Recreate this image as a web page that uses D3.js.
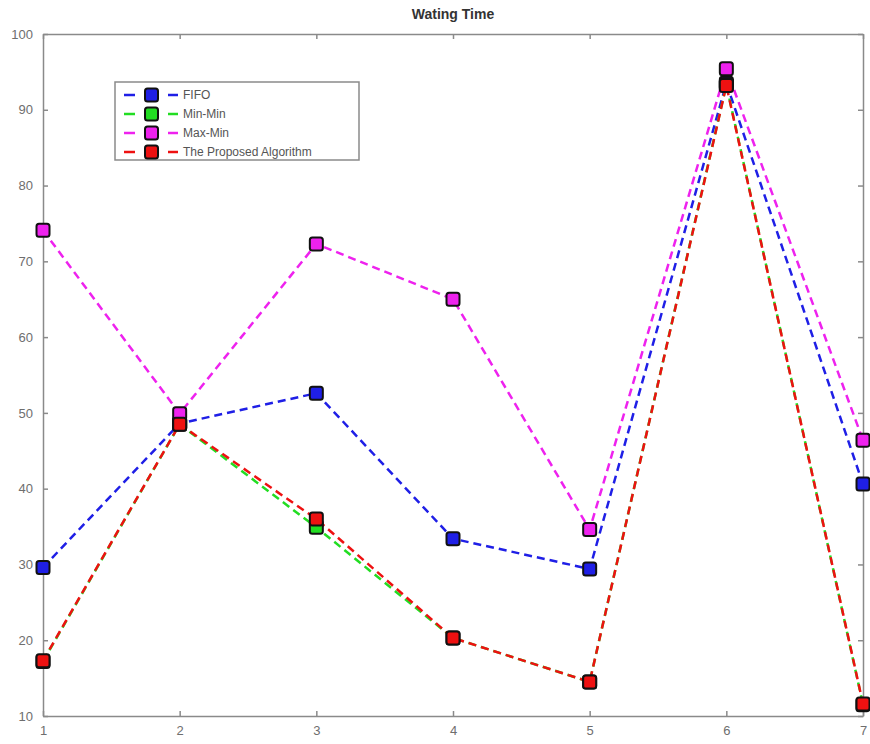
<!DOCTYPE html>
<head>
  <meta charset="utf-8">
  <script src="https://d3js.org/d3.v7.min.js"></script>
  <style>
    body { margin: 0; background: #fff; font-family: 'Liberation Sans', Arial, sans-serif; }
    .axis path, .axis line { stroke: #8a8a8a; stroke-width: 1.5; }
    .axis text { fill: #6e6e6e; font-size: 13px; font-family: 'Liberation Sans', Arial, sans-serif; }
    .title { font-size: 14px; font-weight: bold; fill: #333; }
    .legendText { font-size: 12px; fill: #555; }
  </style>
</head>
<body>
<div id="chart"></div>
<script>

// data
const xValues = [1, 2, 3, 4, 5, 6, 7];
const fifo     = [29.6, 48.6, 52.6, 33.4, 29.4, 93.5, 40.6];
const minMin   = [17.2, 48.5, 34.9, 20.3, 14.5, 93.3, 11.5];
const maxMin   = [74.1, 49.9, 72.3, 65.0, 34.6, 95.4, 46.4];
const proposed = [17.3, 48.5, 36.0, 20.3, 14.5, 93.2, 11.6];
const seriesNames = ["FIFO", "Min-Min", "Max-Min", "The Proposed Algorithm"];
const seriesColors = ["#1f1fe6", "#22dd22", "#ee22ee", "#ee1111"];
const yTicks = [10, 20, 30, 40, 50, 60, 70, 80, 90, 100];

const series = [fifo, minMin, maxMin, proposed].map((vals, i) => ({
  name: seriesNames[i], color: seriesColors[i],
  points: vals.map((v, j) => ({x: xValues[j], y: v}))
}));

const W = 870, H = 744;
const margin = {top: 34, right: 7, bottom: 28, left: 43};
const width = W - margin.left - margin.right;
const height = H - margin.top - margin.bottom;

const svg = d3.select("#chart").append("svg")
  .attr("width", W).attr("height", H);

const g = svg.append("g")
  .attr("transform", "translate(" + margin.left + "," + margin.top + ")");

const x = d3.scaleLinear().domain([1, 7]).range([0, width]);
const y = d3.scaleLinear().domain([10, 100]).range([height, 0]);

// axes with inward ticks on all four sides (matlab box)
g.append("g").attr("class", "axis")
  .attr("transform", "translate(0," + height + ")")
  .call(d3.axisBottom(x).tickValues(xValues).tickSize(-5).tickSizeOuter(0).tickPadding(10).tickFormat(d3.format("d")));
g.append("g").attr("class", "axis")
  .call(d3.axisTop(x).tickValues(xValues).tickSize(-5).tickSizeOuter(0).tickFormat(""));
g.append("g").attr("class", "axis")
  .call(d3.axisLeft(y).tickValues(yTicks).tickSize(-5).tickSizeOuter(0).tickPadding(10));
g.append("g").attr("class", "axis")
  .attr("transform", "translate(" + width + ",0)")
  .call(d3.axisRight(y).tickValues(yTicks).tickSize(-5).tickSizeOuter(0).tickFormat(""));

svg.append("text").attr("class", "title")
  .attr("x", margin.left + width / 2).attr("y", 19)
  .attr("text-anchor", "middle").text("Wating Time");

const line = d3.line().x(d => x(d.x)).y(d => y(d.y));

series.forEach(s => {
  g.append("path")
    .datum(s.points)
    .attr("fill", "none")
    .attr("stroke", s.color)
    .attr("stroke-width", 2.5)
    .attr("stroke-dasharray", "8,5")
    .attr("d", line);
});

series.forEach(s => {
  g.selectAll(null).data(s.points).enter().append("rect")
    .attr("x", d => x(d.x) - 6.5)
    .attr("y", d => y(d.y) - 6.5)
    .attr("width", 13).attr("height", 13)
    .attr("rx", 2.5)
    .attr("fill", s.color)
    .attr("stroke", "#111")
    .attr("stroke-width", 2);
});

// legend
const legend = svg.append("g").attr("transform", "translate(115,82)");
legend.append("rect")
  .attr("width", 244).attr("height", 78)
  .attr("fill", "#fff").attr("stroke", "#8a8a8a").attr("stroke-width", 1.5);

series.forEach((s, i) => {
  const ly = 13 + i * 19;
  const row = legend.append("g").attr("transform", "translate(0," + ly + ")");
  [[9, 20], [53, 63]].forEach(seg => {
    row.append("line").attr("x1", seg[0]).attr("x2", seg[1]).attr("y1", 0).attr("y2", 0)
      .attr("stroke", s.color).attr("stroke-width", 2.5);
  });
  row.append("rect").attr("x", 30).attr("y", -6.5).attr("width", 13).attr("height", 13)
    .attr("rx", 2.5).attr("fill", s.color).attr("stroke", "#111").attr("stroke-width", 2);
  row.append("text").attr("class", "legendText")
    .attr("x", 68).attr("y", 4).text(s.name);
});

</script>
</body>
